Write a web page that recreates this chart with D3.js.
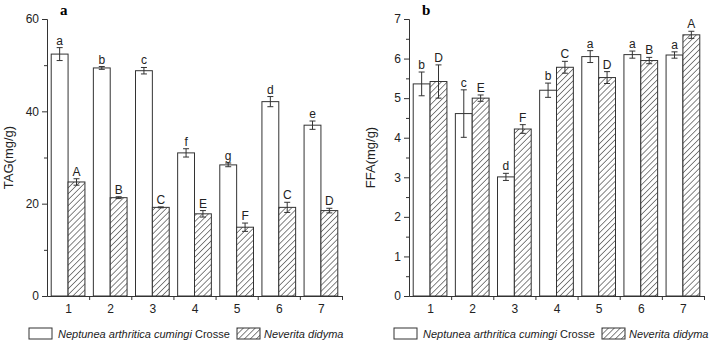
<!DOCTYPE html>
<html>
<head>
<meta charset="utf-8">
<script src="https://cdn.jsdelivr.net/npm/d3@7"></script>
<style>
  body { margin: 0; background: #fff; }
  svg { font-family: "Liberation Sans", Arial, sans-serif; }
</style>
</head>
<body>
<svg width="709" height="341"></svg>
<script>
// Categories
const groups = [1, 2, 3, 4, 5, 6, 7];

// Panel a: TAG (mg/g)
const tagNeptunea = [52.4, 49.4, 48.8, 31.0, 28.4, 42.1, 37.0];
const tagNeptuneaErr = [1.4, 0.3, 0.7, 0.9, 0.4, 1.1, 0.9];
const tagNeptuneaLetters = ["a", "b", "c", "f", "g", "d", "e"];
const tagNeverita = [24.7, 21.3, 19.2, 17.8, 14.9, 19.2, 18.5];
const tagNeveritaErr = [0.7, 0.2, 0.1, 0.7, 0.9, 1.1, 0.5];
const tagNeveritaLetters = ["A", "B", "C", "E", "F", "C", "D"];

// Panel b: FFA (mg/g)
const ffaNeptunea = [5.36, 4.61, 3.01, 5.20, 6.05, 6.10, 6.09];
const ffaNeptuneaErr = [0.30, 0.60, 0.09, 0.18, 0.15, 0.09, 0.08];
const ffaNeptuneaLetters = ["b", "c", "d", "b", "a", "a", "a"];
const ffaNeverita = [5.42, 5.00, 4.22, 5.78, 5.52, 5.95, 6.60];
const ffaNeveritaErr = [0.42, 0.08, 0.11, 0.15, 0.15, 0.08, 0.09];
const ffaNeveritaLetters = ["D", "E", "F", "C", "D", "B", "A"];

const svg = d3.select("svg");
const ink = "#333";

// Hatch pattern
svg.append("defs").append("pattern")
    .attr("id", "hatch")
    .attr("patternUnits", "userSpaceOnUse")
    .attr("width", 4.2).attr("height", 4.2)
    .attr("patternTransform", "rotate(45)")
  .call(p => p.append("rect").attr("width", 4.2).attr("height", 4.2).attr("fill", "#fff"))
  .append("line")
    .attr("x1", 0).attr("y1", 0).attr("x2", 0).attr("y2", 4.2)
    .attr("stroke", "#222").attr("stroke-width", 1.1);

function drawPanel(cfg) {
    const g = svg.append("g");
    const x = d3.scaleLinear().domain([0.5, 7.5]).range([cfg.left, cfg.right]);
    const y = d3.scaleLinear().domain([0, cfg.yMax]).range([296, 19]);
    const bw = x(1.4) - x(1);

    // bars
    const series = [
        {vals: cfg.v1, err: cfg.e1, lab: cfg.l1, off: -bw, fill: "#fff"},
        {vals: cfg.v2, err: cfg.e2, lab: cfg.l2, off: 0, fill: "url(#hatch)"}
    ];
    series.forEach(s => {
        const sg = g.append("g");
        sg.selectAll("rect").data(groups).enter().append("rect")
            .attr("x", (d, i) => x(d) + s.off)
            .attr("y", (d, i) => y(s.vals[i]))
            .attr("width", bw)
            .attr("height", (d, i) => y(0) - y(s.vals[i]))
            .attr("fill", s.fill)
            .attr("stroke", ink).attr("stroke-width", 1);
        // error bars
        const eb = sg.selectAll("g.err").data(groups).enter().append("g")
            .attr("stroke", ink).attr("stroke-width", 1);
        eb.append("line")
            .attr("x1", d => x(d) + s.off + bw / 2).attr("x2", d => x(d) + s.off + bw / 2)
            .attr("y1", (d, i) => y(s.vals[i] - s.err[i]))
            .attr("y2", (d, i) => y(s.vals[i] + s.err[i]));
        [-1, 1].forEach(k => {
            eb.append("line")
                .attr("x1", d => x(d) + s.off + bw / 2 - 3).attr("x2", d => x(d) + s.off + bw / 2 + 3)
                .attr("y1", (d, i) => y(s.vals[i] + k * s.err[i]))
                .attr("y2", (d, i) => y(s.vals[i] + k * s.err[i]));
        });
        // significance letters
        sg.selectAll("text").data(groups).enter().append("text")
            .attr("x", d => x(d) + s.off + bw / 2)
            .attr("y", (d, i) => y(s.vals[i] + s.err[i]) - 3)
            .attr("text-anchor", "middle")
            .attr("font-size", 12)
            .attr("fill", "#222")
            .text((d, i) => s.lab[i]);
    });

    // y axis
    g.append("g").attr("transform", `translate(${cfg.left},0)`)
        .call(d3.axisLeft(y).tickValues(cfg.yTicks).tickSize(5).tickPadding(3).tickFormat(d3.format("d")));
    g.append("g").attr("transform", `translate(${cfg.left},0)`)
        .call(d3.axisLeft(y).tickValues(cfg.yMinor).tickSize(3).tickFormat(""))
        .call(a => a.select(".domain").remove());

    // x axis
    g.append("g").attr("transform", "translate(0,296)")
        .call(d3.axisBottom(x).tickValues(groups).tickSize(0).tickPadding(8).tickFormat(d3.format("d")));
    g.append("g").attr("transform", "translate(0,296)")
        .call(d3.axisBottom(x).tickValues(groups.map(d => d + 0.5)).tickSize(4).tickFormat(""))
        .call(a => a.select(".domain").remove());

    g.selectAll(".tick text").attr("font-size", 12).attr("fill", "#222")
        .attr("font-family", "Liberation Sans, Arial, sans-serif");
    g.selectAll(".domain, .tick line").attr("stroke", ink);

    // y label
    g.append("text")
        .attr("transform", `translate(${cfg.left - 34},${(19 + 296) / 2}) rotate(-90)`)
        .attr("text-anchor", "middle")
        .attr("font-size", 13).attr("fill", "#222")
        .text(cfg.yLabel);

    // panel title
    g.append("text")
        .attr("x", cfg.left + 13).attr("y", 15)
        .attr("font-family", "Liberation Serif, Times New Roman, serif")
        .attr("font-weight", "bold").attr("font-size", 15)
        .text(cfg.title);

    // legend
    const lg = g.append("g").attr("transform", `translate(${cfg.legendX},328)`);
    lg.append("rect").attr("x", 0).attr("y", 0).attr("width", 23).attr("height", 11)
        .attr("fill", "#fff").attr("stroke", ink);
    const t1 = lg.append("text").attr("x", 29).attr("y", 10).attr("font-size", 11).attr("fill", "#222");
    t1.append("tspan").attr("font-style", "italic").text("Neptunea arthritica cumingi");
    t1.append("tspan").text(" Crosse");
    lg.append("rect").attr("x", 208).attr("y", 0).attr("width", 23).attr("height", 11)
        .attr("fill", "url(#hatch)").attr("stroke", ink);
    lg.append("text").attr("x", 235).attr("y", 10).attr("font-size", 11).attr("fill", "#222")
        .attr("font-style", "italic").text("Neverita didyma");
}

drawPanel({
    left: 47, right: 342, yMax: 60,
    yTicks: [0, 20, 40, 60], yMinor: [10, 30, 50],
    v1: tagNeptunea, e1: tagNeptuneaErr, l1: tagNeptuneaLetters,
    v2: tagNeverita, e2: tagNeveritaErr, l2: tagNeveritaLetters,
    yLabel: "TAG(mg/g)", title: "a", legendX: 29
});

drawPanel({
    left: 409, right: 704, yMax: 7,
    yTicks: [0, 1, 2, 3, 4, 5, 6, 7], yMinor: [0.5, 1.5, 2.5, 3.5, 4.5, 5.5, 6.5],
    v1: ffaNeptunea, e1: ffaNeptuneaErr, l1: ffaNeptuneaLetters,
    v2: ffaNeverita, e2: ffaNeveritaErr, l2: ffaNeveritaLetters,
    yLabel: "FFA(mg/g)", title: "b", legendX: 394
});
</script>
</body>
</html>
